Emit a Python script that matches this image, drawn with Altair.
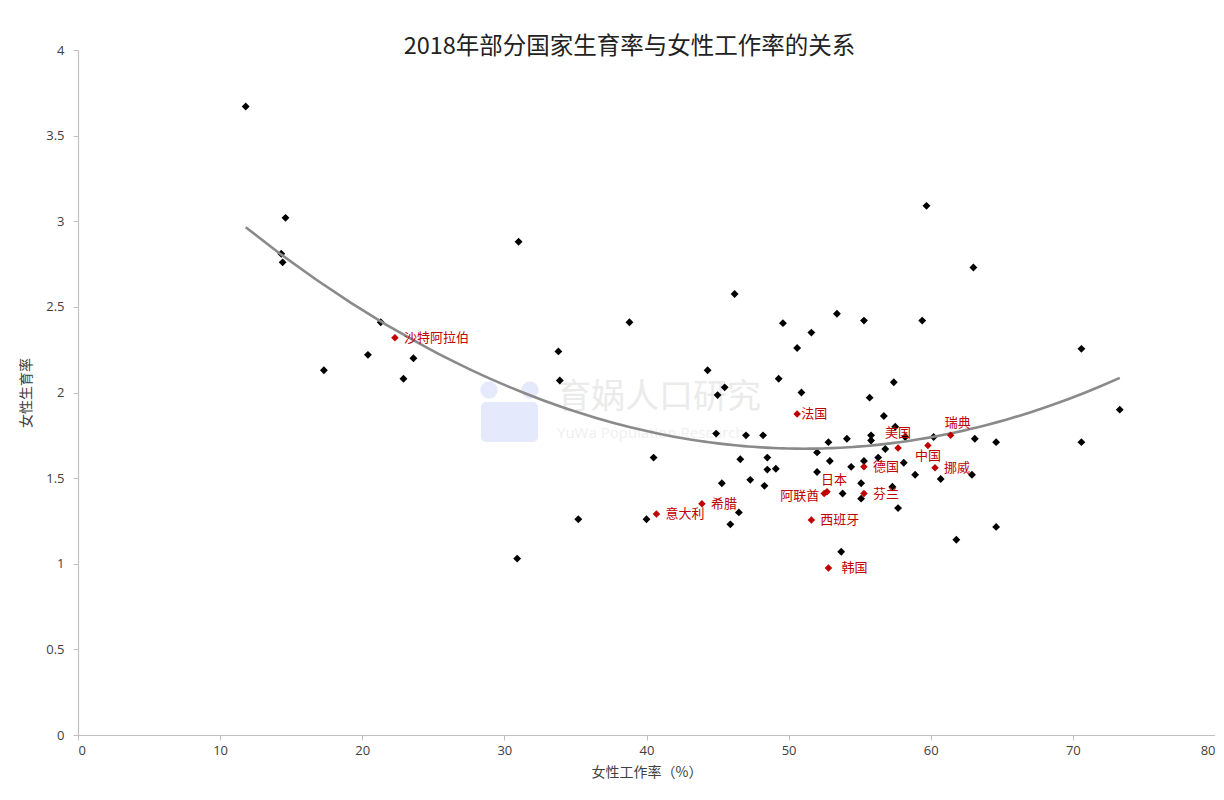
import altair as alt
import pandas as pd

# Black points: (female employment rate %, fertility rate)
black_x = [11.8, 14.6, 14.3, 14.4, 17.3, 20.4, 21.3, 22.9, 23.6, 31.0, 30.9, 33.8, 33.9, 35.2,
           38.8, 40.0, 40.5, 44.3, 44.9, 45.0, 45.3, 45.5, 45.9, 46.2, 46.5, 46.6, 47.0, 47.3,
           48.2, 48.3, 48.5, 48.5, 49.1, 49.3, 49.6, 50.6, 50.9, 51.6, 52.0, 52.0, 52.8, 52.9,
           53.4, 53.7, 53.8, 54.1, 54.4, 55.1, 55.1, 55.3, 55.3, 55.7, 55.8, 55.8, 56.3, 56.7,
           56.8, 57.3, 57.4, 57.5, 57.7, 58.1, 58.2, 58.9, 59.4, 59.7, 60.2, 60.7, 61.8, 62.9,
           63.0, 63.1, 64.6, 64.6, 70.6, 70.6, 73.3]
black_y = [3.67, 3.02, 2.81, 2.76, 2.13, 2.22, 2.41, 2.08, 2.20, 2.88, 1.03, 2.24, 2.07, 1.26,
           2.41, 1.26, 1.62, 2.13, 1.76, 1.985, 1.47, 2.03, 1.23, 2.575, 1.30, 1.61, 1.75, 1.49,
           1.75, 1.455, 1.62, 1.55, 1.555, 2.08, 2.405, 2.26, 2.00, 2.35, 1.65, 1.536, 1.71, 1.60,
           2.46, 1.07, 1.41, 1.73, 1.566, 1.47, 1.38, 1.60, 2.42, 1.97, 1.75, 1.72, 1.62, 1.863,
           1.67, 1.45, 2.06, 1.80, 1.325, 1.59, 1.74, 1.52, 2.42, 3.09, 1.74, 1.495, 1.14, 1.52,
           2.73, 1.73, 1.71, 1.215, 2.255, 1.71, 1.90]

# Highlighted countries
red_names = ["沙特阿拉伯", "法国", "美国", "中国", "瑞典", "德国", "挪威", "日本", "阿联酋",
             "芬兰", "希腊", "意大利", "西班牙", "韩国"]
red_x = [22.3, 50.6, 57.7, 59.8, 61.4, 55.3, 60.3, 52.7, 52.5, 55.3, 43.9, 40.7, 51.6, 52.8]
red_y = [2.32, 1.875, 1.676, 1.69, 1.75, 1.566, 1.56, 1.42, 1.41, 1.41, 1.35, 1.29, 1.255, 0.975]

x_ticks = [0, 10, 20, 30, 40, 50, 60, 70, 80]
y_ticks = [0, 0.5, 1, 1.5, 2, 2.5, 3, 3.5, 4]

black_df = pd.DataFrame({"x": black_x, "y": black_y})
red_df = pd.DataFrame({"name": red_names, "x": red_x, "y": red_y})
all_df = pd.concat([black_df, red_df[["x", "y"]]], ignore_index=True)

RED = "#c00000"
FONT_NUM = "Open Sans"
FONT_CJK = "Noto Sans CJK SC"

xs = alt.X("x:Q", scale=alt.Scale(domain=[0, 80], nice=False),
           axis=alt.Axis(title="女性工作率（%）", values=x_ticks, grid=False))
ys = alt.Y("y:Q", scale=alt.Scale(domain=[0, 4], nice=False),
           axis=alt.Axis(title="女性生育率", values=y_ticks, grid=False, format="~g"))

black = alt.Chart(black_df).mark_point(shape="diamond", filled=True, size=62,
                                       color="#000000", opacity=1).encode(x=xs, y=ys)

trend = alt.Chart(all_df).transform_regression(
    "x", "y", method="poly", order=2, extent=[11.8, 73.3]
).mark_line(color="#8a8a8a", strokeWidth=2.6).encode(x="x:Q", y="y:Q")

red = alt.Chart(red_df).mark_point(shape="diamond", filled=True, size=56,
                                   color=RED, opacity=1).encode(x="x:Q", y="y:Q")


def labels(names, **kw):
    base = dict(color=RED, font=FONT_CJK, fontSize=13, baseline="middle")
    base.update(kw)
    return alt.Chart(red_df).transform_filter(
        alt.FieldOneOfPredicate(field="name", oneOf=names)
    ).mark_text(**base).encode(x="x:Q", y="y:Q", text="name:N")


lab_right = labels(["沙特阿拉伯", "德国", "挪威", "芬兰", "希腊", "意大利", "西班牙"], align="left", dx=9)
lab_near = labels(["法国"], align="left", dx=4)
lab_far = labels(["韩国"], align="left", dx=13)
lab_above = labels(["日本", "瑞典"], align="center", dx=7, dy=-12)
lab_above_c = labels(["美国"], align="center", dx=0, dy=-15)
lab_left = labels(["阿联酋"], align="right", dx=-5, dy=2)
lab_below = labels(["中国"], align="center", dx=0, dy=10)

# faint watermark (decoration)
one = alt.Chart(red_df).transform_filter("datum.name == '法国'")
wm_logo = one.mark_rect(color="#e4eafc", cornerRadius=5).encode(
    x=alt.value(403), x2=alt.value(460), y=alt.value(352), y2=alt.value(392))
wm_dot1 = one.mark_point(shape="circle", filled=True, size=300, color="#e4eafc", opacity=1).encode(
    x=alt.value(411), y=alt.value(340))
wm_dot2 = one.mark_point(shape="circle", filled=True, size=300, color="#e4eafc", opacity=1).encode(
    x=alt.value(452), y=alt.value(340))
wm1 = one.mark_text(
    text="育娲人口研究", font=FONT_CJK, fontSize=34, color="#ebebeb", align="left",
    baseline="middle").encode(x=alt.value(479), y=alt.value(348))
wm2 = one.mark_text(
    text="YuWa Population Research", font=FONT_NUM, fontSize=15, color="#efefef", align="left",
    baseline="middle").encode(x=alt.value(479), y=alt.value(383))

chart = alt.layer(
    wm_logo, wm_dot1, wm_dot2, wm1, wm2, black, trend, red,
    lab_right, lab_near, lab_far, lab_above, lab_above_c, lab_left, lab_below
).properties(
    width=1137, height=685,
    title=alt.TitleParams("2018年部分国家生育率与女性工作率的关系", font=FONT_CJK, fontSize=23.5,
                          fontWeight="normal", color="#222222", anchor="middle", offset=-14, dx=-17),
    autosize=alt.AutoSizeParams(type="none"),
    padding={"left": 70, "top": 42, "right": 0, "bottom": 48},
).configure_view(stroke=None).configure_axis(
    domainColor="#c0c0c0", tickColor="#c0c0c0", tickSize=5, domainWidth=1.2,
    labelFont=FONT_NUM, labelFontSize=13, labelColor="#404040",
    titleFont=FONT_CJK, titleFontSize=14, titleFontWeight="normal", titleColor="#404040",
).configure_axisX(labelPadding=4, titlePadding=8).configure_axisY(labelPadding=9, titlePadding=12)

chart.save("out.html", embed_options={"renderer": "svg", "actions": False})
